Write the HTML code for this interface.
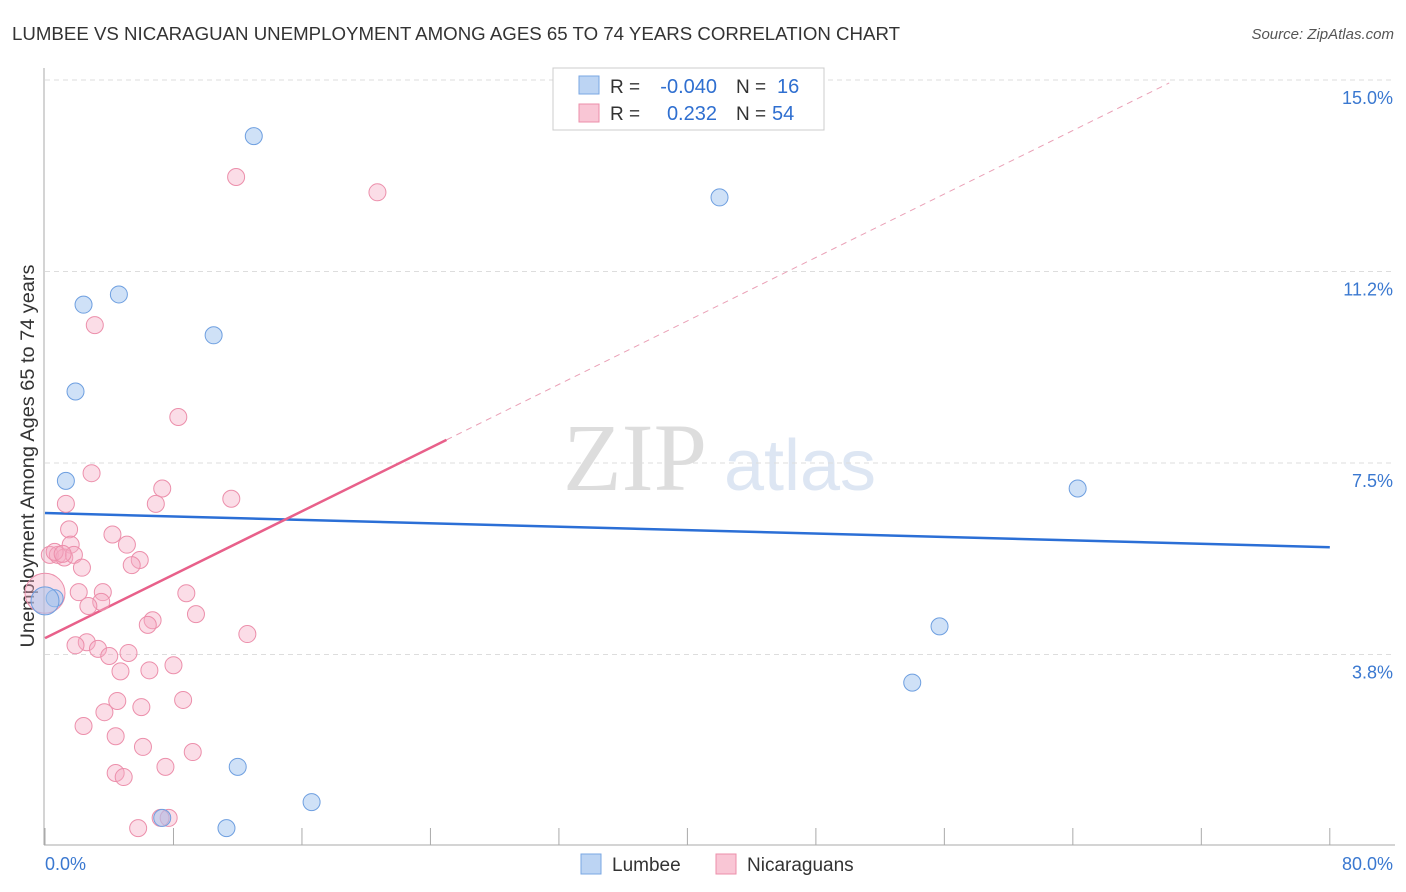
<!DOCTYPE html>
<html><head><meta charset="utf-8"><style>
body{margin:0;background:#fff;font-family:"Liberation Sans",sans-serif;}
svg{display:block}
</style></head><body>
<svg id="chart" width="1406" height="892" xmlns="http://www.w3.org/2000/svg">
<text x="12" y="40" font-size="18" fill="#333" textLength="888" lengthAdjust="spacingAndGlyphs">LUMBEE VS NICARAGUAN UNEMPLOYMENT AMONG AGES 65 TO 74 YEARS CORRELATION CHART</text>
<text x="1394" y="39" font-size="15" fill="#555" font-style="italic" text-anchor="end">Source: ZipAtlas.com</text>
<g><text x="635" y="490" font-size="96" fill="#ddd" font-family="Liberation Serif" text-anchor="middle">ZIP</text><text x="800" y="490" font-size="72" fill="#dde6f3" text-anchor="middle">atlas</text></g>
<text transform="translate(34,456) rotate(-90)" font-size="19" fill="#333" text-anchor="middle" textLength="383" lengthAdjust="spacingAndGlyphs">Unemployment Among Ages 65 to 74 years</text>
<g id="grid"></g><g id="axes"></g><g id="trend"></g><g id="pts"></g>
<g>
<rect x="553" y="68" width="271" height="62" fill="#fff" stroke="#ccc"/>
<rect x="579" y="76" width="20" height="18" fill="#bcd4f3" stroke="#7aa7e3"/>
<rect x="579" y="104" width="20" height="18" fill="#f9c6d5" stroke="#ec8faa"/>
<text x="610" y="93" font-size="19" fill="#333">R =</text>
<text x="717" y="93" font-size="20" fill="#2f6fd0" text-anchor="end">-0.040</text>
<text x="736" y="93" font-size="19" fill="#333">N =</text>
<text x="777" y="93" font-size="20" fill="#2f6fd0">16</text>
<text x="610" y="120" font-size="19" fill="#333">R =</text>
<text x="717" y="120" font-size="20" fill="#2f6fd0" text-anchor="end">0.232</text>
<text x="736" y="120" font-size="19" fill="#333">N =</text>
<text x="772" y="120" font-size="20" fill="#2f6fd0">54</text>
</g>
<g>
<rect x="581" y="854" width="20" height="20" fill="#bcd4f3" stroke="#7aa7e3"/>
<text x="612" y="871" font-size="19" fill="#333">Lumbee</text>
<rect x="716" y="854" width="20" height="20" fill="#f9c6d5" stroke="#ec8faa"/>
<text x="747" y="871" font-size="19" fill="#333">Nicaraguans</text>
</g>
</svg>
<script>
const lumbeeX=[13,42,2.4,4.6,10.5,1.9,1.3,64.3,0.6,0,55.7,54,12,16.6,7.3,11.3];
const lumbeeY=[13.9,12.7,10.6,10.8,10.0,8.9,7.15,7.0,4.85,4.8,4.3,3.2,1.55,0.86,0.55,0.35];
const nicX=[11.9,20.7,3.1,8.3,2.9,7.3,6.9,11.6,1.3,1.5,4.2,1.6,5.1,0.3,0.8,1.2,1.8,5.9,5.4,2.3,0,2.1,3.6,8.8,3.5,2.7,9.4,6.7,6.4,12.6,2.6,1.9,3.3,5.2,4.0,8.0,6.5,4.7,4.5,8.6,6.0,3.7,2.4,4.4,6.1,9.2,7.5,4.4,4.9,7.7,5.8,0.6,1.1,7.2];
const nicY=[13.1,12.8,10.2,8.4,7.3,7.0,6.7,6.8,6.7,6.2,6.1,5.9,5.9,5.7,5.7,5.65,5.7,5.6,5.5,5.45,4.95,4.97,4.97,4.95,4.78,4.7,4.54,4.42,4.33,4.15,3.99,3.93,3.86,3.78,3.72,3.54,3.44,3.42,2.84,2.86,2.72,2.62,2.35,2.15,1.94,1.84,1.55,1.43,1.35,0.55,0.35,5.76,5.72,0.55];
const yTicks=[3.75,7.5,11.25,15.0];
const yTickLabels=["3.8%","7.5%","11.2%","15.0%"];
const blueTrend=[6.52,5.85];
const pinkTrend=[4.07,0.1553];
const NS="http://www.w3.org/2000/svg";
const X=v=>45+v*16.06, Y=v=>846-v*51.07;
function mk(t,a,p){const e=document.createElementNS(NS,t);for(const k in a)e.setAttribute(k,a[k]);document.getElementById(p).appendChild(e);return e;}
yTicks.forEach((t,i)=>{
 const yp=Y(t);
 const l=mk('line',{x1:45,x2:1395,y1:yp,y2:yp,stroke:'#ddd','stroke-dasharray':'5,4'},'grid');
 
 
 const tx=mk('text',{x:1393,y:yp+24,'font-size':18,fill:'#3a78d0','text-anchor':'end'},'grid');
 tx.textContent=yTickLabels[i];
 
 
});
let a=mk('line',{x1:44,x2:44,y1:68,y2:845,stroke:'#aaa'},'axes');

a=mk('line',{x1:44,x2:1395,y1:845,y2:845,stroke:'#aaa'},'axes');

for(let i=0;i<=10;i++){const t=mk('line',{x1:X(i*8),x2:X(i*8),y1:828,y2:845,stroke:'#aaa'},'axes');
 
 }
let t1=mk('text',{x:45,y:870,'font-size':18,fill:'#3a78d0'},'axes');t1.textContent='0.0%';

t1=mk('text',{x:1393,y:870,'font-size':18,fill:'#3a78d0','text-anchor':'end'},'axes');t1.textContent='80.0%';

let tl=mk('line',{x1:X(0),y1:Y(blueTrend[0]),x2:X(80),y2:Y(blueTrend[1]),stroke:'#2b6fd6','stroke-width':2.5},'trend');

tl=mk('line',{x1:X(0),y1:Y(pinkTrend[0]),x2:X(25),y2:Y(pinkTrend[0]+pinkTrend[1]*25),stroke:'#e8608a','stroke-width':2.5},'trend');

tl=mk('line',{x1:X(25),y1:Y(pinkTrend[0]+pinkTrend[1]*25),x2:X(70),y2:Y(pinkTrend[0]+pinkTrend[1]*70),stroke:'#eaa0b6','stroke-width':1,'stroke-dasharray':'6,5'},'trend');

nicX.forEach((v,i)=>{const c=mk('circle',{cx:X(v),cy:Y(nicY[i]),r:(v===0?20:8.5),fill:'rgba(246,170,195,0.4)',stroke:'#ec8fab','stroke-width':1},'pts');
 
 });
lumbeeX.forEach((v,i)=>{const c=mk('circle',{cx:X(v),cy:Y(lumbeeY[i]),r:(v===0?14:8.5),fill:'rgba(160,195,240,0.5)',stroke:'#6e9fe0','stroke-width':1},'pts');
 
 });
</script>
</body></html>
